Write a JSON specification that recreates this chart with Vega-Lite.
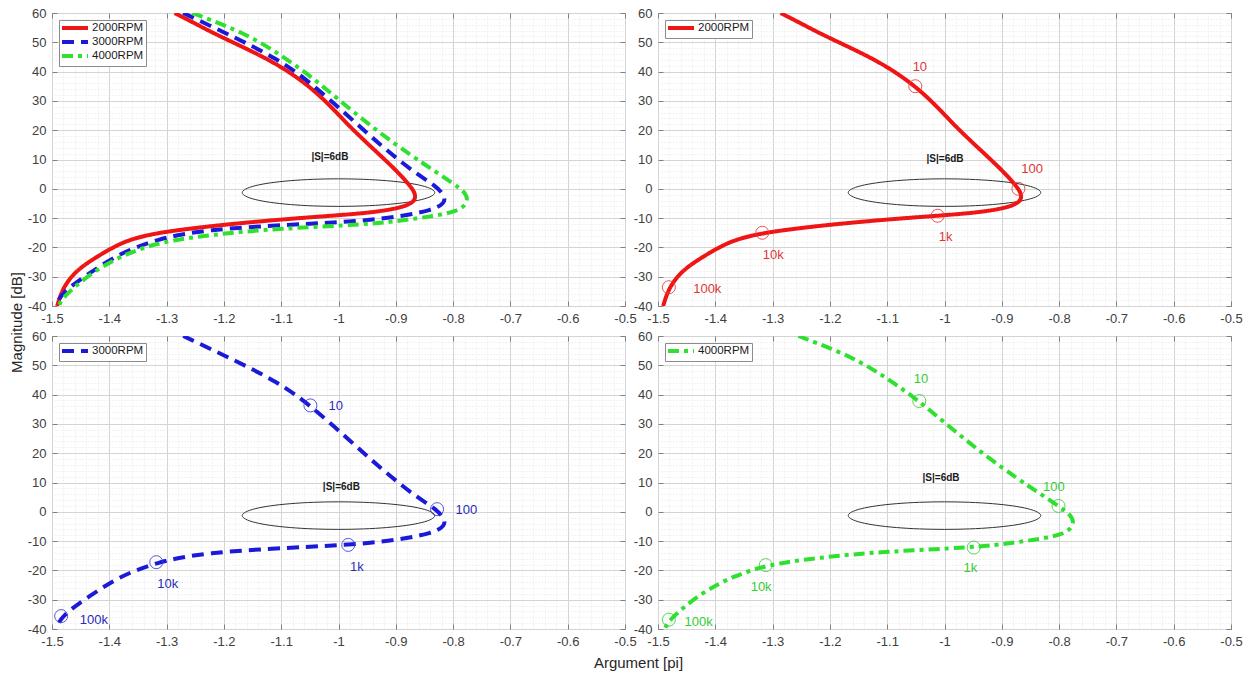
{
  "$schema": "https://vega.github.io/schema/vega-lite/v6.json",
  "padding": {"left": 8, "top": 6, "right": 5, "bottom": 3},
  "background": "white",
  "datasets": {
    "curves": [
      {"series": "2000RPM", "i": 1, "x": -1.286, "y": 60},
      {"series": "2000RPM", "i": 2, "x": -1.253, "y": 56.7},
      {"series": "2000RPM", "i": 3, "x": -1.22, "y": 53.3},
      {"series": "2000RPM", "i": 4, "x": -1.177, "y": 49.3},
      {"series": "2000RPM", "i": 5, "x": -1.133, "y": 45.2},
      {"series": "2000RPM", "i": 6, "x": -1.092, "y": 40.7},
      {"series": "2000RPM", "i": 7, "x": -1.051, "y": 35.0},
      {"series": "2000RPM", "i": 8, "x": -1.016, "y": 28.7},
      {"series": "2000RPM", "i": 9, "x": -0.981, "y": 21.3},
      {"series": "2000RPM", "i": 10, "x": -0.941, "y": 13.9},
      {"series": "2000RPM", "i": 11, "x": -0.905, "y": 7.4},
      {"series": "2000RPM", "i": 12, "x": -0.88, "y": 2.2},
      {"series": "2000RPM", "i": 13, "x": -0.868, "y": -0.8},
      {"series": "2000RPM", "i": 14, "x": -0.865, "y": -3.0},
      {"series": "2000RPM", "i": 15, "x": -0.871, "y": -4.9},
      {"series": "2000RPM", "i": 16, "x": -0.894, "y": -6.6},
      {"series": "2000RPM", "i": 17, "x": -0.941, "y": -8.1},
      {"series": "2000RPM", "i": 18, "x": -1.012, "y": -9.2},
      {"series": "2000RPM", "i": 19, "x": -1.104, "y": -10.5},
      {"series": "2000RPM", "i": 20, "x": -1.22, "y": -12.6},
      {"series": "2000RPM", "i": 21, "x": -1.318, "y": -15.0},
      {"series": "2000RPM", "i": 22, "x": -1.366, "y": -17.4},
      {"series": "2000RPM", "i": 23, "x": -1.395, "y": -20.1},
      {"series": "2000RPM", "i": 24, "x": -1.43, "y": -24.2},
      {"series": "2000RPM", "i": 25, "x": -1.458, "y": -28.0},
      {"series": "2000RPM", "i": 26, "x": -1.481, "y": -33.6},
      {"series": "2000RPM", "i": 27, "x": -1.491, "y": -40},
      {"series": "3000RPM", "i": 1, "x": -1.271, "y": 60},
      {"series": "3000RPM", "i": 2, "x": -1.19, "y": 52.5},
      {"series": "3000RPM", "i": 3, "x": -1.106, "y": 44.4},
      {"series": "3000RPM", "i": 4, "x": -1.049, "y": 36.3},
      {"series": "3000RPM", "i": 5, "x": -0.983, "y": 24.8},
      {"series": "3000RPM", "i": 6, "x": -0.925, "y": 14.6},
      {"series": "3000RPM", "i": 7, "x": -0.867, "y": 5.4},
      {"series": "3000RPM", "i": 8, "x": -0.83, "y": 1.0},
      {"series": "3000RPM", "i": 9, "x": -0.814, "y": -2.5},
      {"series": "3000RPM", "i": 10, "x": -0.815, "y": -5.0},
      {"series": "3000RPM", "i": 11, "x": -0.835, "y": -7.2},
      {"series": "3000RPM", "i": 12, "x": -0.896, "y": -9.7},
      {"series": "3000RPM", "i": 13, "x": -0.983, "y": -11.3},
      {"series": "3000RPM", "i": 14, "x": -1.071, "y": -12.1},
      {"series": "3000RPM", "i": 15, "x": -1.234, "y": -13.9},
      {"series": "3000RPM", "i": 16, "x": -1.318, "y": -17.2},
      {"series": "3000RPM", "i": 17, "x": -1.385, "y": -22.3},
      {"series": "3000RPM", "i": 18, "x": -1.437, "y": -29.1},
      {"series": "3000RPM", "i": 19, "x": -1.484, "y": -35.6},
      {"series": "3000RPM", "i": 20, "x": -1.493, "y": -40},
      {"series": "4000RPM", "i": 1, "x": -1.255, "y": 60},
      {"series": "4000RPM", "i": 2, "x": -1.162, "y": 53.1},
      {"series": "4000RPM", "i": 3, "x": -1.1, "y": 45.6},
      {"series": "4000RPM", "i": 4, "x": -1.044, "y": 37.8},
      {"series": "4000RPM", "i": 5, "x": -0.987, "y": 28.3},
      {"series": "4000RPM", "i": 6, "x": -0.929, "y": 19.2},
      {"series": "4000RPM", "i": 7, "x": -0.871, "y": 11.1},
      {"series": "4000RPM", "i": 8, "x": -0.838, "y": 6.8},
      {"series": "4000RPM", "i": 9, "x": -0.801, "y": 2.0},
      {"series": "4000RPM", "i": 10, "x": -0.78, "y": -1.0},
      {"series": "4000RPM", "i": 11, "x": -0.774, "y": -3.5},
      {"series": "4000RPM", "i": 12, "x": -0.78, "y": -6.0},
      {"series": "4000RPM", "i": 13, "x": -0.795, "y": -7.6},
      {"series": "4000RPM", "i": 14, "x": -0.818, "y": -8.8},
      {"series": "4000RPM", "i": 15, "x": -0.876, "y": -10.5},
      {"series": "4000RPM", "i": 16, "x": -0.949, "y": -12.2},
      {"series": "4000RPM", "i": 17, "x": -1.104, "y": -13.5},
      {"series": "4000RPM", "i": 18, "x": -1.22, "y": -15.6},
      {"series": "4000RPM", "i": 19, "x": -1.312, "y": -18.2},
      {"series": "4000RPM", "i": 20, "x": -1.366, "y": -21.8},
      {"series": "4000RPM", "i": 21, "x": -1.424, "y": -27.5},
      {"series": "4000RPM", "i": 22, "x": -1.481, "y": -36.8},
      {"series": "4000RPM", "i": 23, "x": -1.488, "y": -40}
    ],
    "ellipse": [
      {"i": 0, "x": -0.832, "y": -1.3},
      {"i": 1, "x": -0.838, "y": -0.083},
      {"i": 2, "x": -0.8545, "y": 1.05},
      {"i": 3, "x": -0.881, "y": 2.023},
      {"i": 4, "x": -0.916, "y": 2.77},
      {"i": 5, "x": -0.9565, "y": 3.24},
      {"i": 6, "x": -1.0, "y": 3.4},
      {"i": 7, "x": -1.0435, "y": 3.24},
      {"i": 8, "x": -1.084, "y": 2.77},
      {"i": 9, "x": -1.119, "y": 2.023},
      {"i": 10, "x": -1.1455, "y": 1.05},
      {"i": 11, "x": -1.162, "y": -0.083},
      {"i": 12, "x": -1.168, "y": -1.3},
      {"i": 13, "x": -1.162, "y": -2.517},
      {"i": 14, "x": -1.1455, "y": -3.65},
      {"i": 15, "x": -1.119, "y": -4.623},
      {"i": 16, "x": -1.084, "y": -5.37},
      {"i": 17, "x": -1.0435, "y": -5.84},
      {"i": 18, "x": -1.0, "y": -6.0},
      {"i": 19, "x": -0.9565, "y": -5.84},
      {"i": 20, "x": -0.916, "y": -5.37},
      {"i": 21, "x": -0.881, "y": -4.623},
      {"i": 22, "x": -0.8545, "y": -3.65},
      {"i": 23, "x": -0.838, "y": -2.517}
    ],
    "markers": [
      {"series": "2000RPM", "label": "10", "x": -1.051, "y": 35.0},
      {"series": "2000RPM", "label": "100", "x": -0.871, "y": 0.0},
      {"series": "2000RPM", "label": "1k", "x": -1.012, "y": -9.2},
      {"series": "2000RPM", "label": "10k", "x": -1.318, "y": -15.0},
      {"series": "2000RPM", "label": "100k", "x": -1.481, "y": -33.6},
      {"series": "3000RPM", "label": "10", "x": -1.049, "y": 36.3},
      {"series": "3000RPM", "label": "100", "x": -0.828, "y": 0.9},
      {"series": "3000RPM", "label": "1k", "x": -0.983, "y": -11.3},
      {"series": "3000RPM", "label": "10k", "x": -1.318, "y": -17.2},
      {"series": "3000RPM", "label": "100k", "x": -1.484, "y": -35.6},
      {"series": "4000RPM", "label": "10", "x": -1.044, "y": 37.8},
      {"series": "4000RPM", "label": "100", "x": -0.801, "y": 2.0},
      {"series": "4000RPM", "label": "1k", "x": -0.949, "y": -12.2},
      {"series": "4000RPM", "label": "10k", "x": -1.312, "y": -18.2},
      {"series": "4000RPM", "label": "100k", "x": -1.481, "y": -36.8}
    ],
    "labels": [
      {"series": "2000RPM", "label": "10", "x": -1.043, "y": 41.6},
      {"series": "2000RPM", "label": "100", "x": -0.847, "y": 6.6},
      {"series": "2000RPM", "label": "1k", "x": -0.998, "y": -16.4},
      {"series": "2000RPM", "label": "10k", "x": -1.299, "y": -22.7},
      {"series": "2000RPM", "label": "100k", "x": -1.414, "y": -34.1},
      {"series": "3000RPM", "label": "10", "x": -1.005, "y": 36.1},
      {"series": "3000RPM", "label": "100", "x": -0.777, "y": 0.5},
      {"series": "3000RPM", "label": "1k", "x": -0.968, "y": -18.8},
      {"series": "3000RPM", "label": "10k", "x": -1.298, "y": -24.7},
      {"series": "3000RPM", "label": "100k", "x": -1.427, "y": -36.8},
      {"series": "4000RPM", "label": "10", "x": -1.041, "y": 45.2},
      {"series": "4000RPM", "label": "100", "x": -0.809, "y": 8.6},
      {"series": "4000RPM", "label": "1k", "x": -0.955, "y": -19.3},
      {"series": "4000RPM", "label": "10k", "x": -1.32, "y": -25.8},
      {"series": "4000RPM", "label": "100k", "x": -1.429, "y": -37.5}
    ],
    "stext": [
      {"panel": 1, "t": "|S|=6dB", "x": -1.015, "y": 11.0},
      {"panel": 2, "t": "|S|=6dB", "x": -0.999, "y": 10.3},
      {"panel": 3, "t": "|S|=6dB", "x": -0.995, "y": 8.5},
      {"panel": 4, "t": "|S|=6dB", "x": -1.006, "y": 11.7}
    ]
  },
  "columns": 2,
  "spacing": {"row": 30, "column": 33},
  "bounds": "flush",
  "resolve": {
    "scale": {"color": "independent", "strokeDash": "independent"},
    "legend": {"color": "independent", "strokeDash": "independent"}
  },
  "concat": [
    {
      "width": 573, "height": 293,
      "resolve": {"axis": {"x": "independent", "y": "independent"}},
      "encoding": {
        "x": {"field": "x", "type": "quantitative", "scale": {"domain": [-1.5, -0.5], "nice": false, "zero": false}, "axis": null},
        "y": {"field": "y", "type": "quantitative", "scale": {"domain": [-40, 60], "nice": false, "zero": false}, "axis": null}
      },
      "layer": [
        {"data": {"name": "ellipse"}, "mark": {"type": "line", "interpolate": "cardinal-closed", "color": "#333333", "strokeWidth": 1},
          "encoding": {"order": {"field": "i", "type": "quantitative"},
            "x": {"field": "x", "type": "quantitative",
              "axis": {"title": null, "tickCount": 50, "labelOverlap": false, "labelFlush": false,
                "labelExpr": "abs(datum.value*10 - round(datum.value*10)) < 0.000001 ? '' + datum.value : ''",
                "gridColor": {"condition": {"test": "abs(datum.value*10 - round(datum.value*10)) > 0.000001", "value": "#e6e6e6"}, "value": "#d4d4d4"},
                "gridDash": {"condition": {"test": "abs(datum.value*10 - round(datum.value*10)) > 0.000001", "value": [1, 2]}, "value": []},
                "tickOpacity": {"condition": {"test": "abs(datum.value*10 - round(datum.value*10)) > 0.000001", "value": 0}, "value": 1}}},
            "y": {"field": "y", "type": "quantitative",
              "axis": {"title": "Magnitude [dB]", "titleX": -36, "titleY": 309, "titleAlign": "center", "titleBaseline": "middle", "titleAngle": -90,
                "tickCount": 50, "labelOverlap": false, "labelFlush": false,
                "labelExpr": "datum.value % 10 === 0 ? '' + datum.value : ''",
                "gridColor": {"condition": {"test": "datum.value % 10 !== 0", "value": "#e6e6e6"}, "value": "#d4d4d4"},
                "gridDash": {"condition": {"test": "datum.value % 10 !== 0", "value": [1, 2]}, "value": []},
                "tickOpacity": {"condition": {"test": "datum.value % 10 !== 0", "value": 0}, "value": 1}}}}},
        {"data": {"name": "curves"}, "mark": {"type": "line", "interpolate": "basis", "strokeWidth": 4, "clip": true},
          "encoding": {"order": {"field": "i", "type": "quantitative"},
            "color": {"field": "series", "type": "nominal", "title": null, "scale": {"domain": ["2000RPM", "3000RPM", "4000RPM"], "range": ["#f01515", "#1a1ad8", "#2fe02f"]}},
            "strokeDash": {"field": "series", "type": "nominal", "title": null, "scale": {"domain": ["2000RPM", "3000RPM", "4000RPM"], "range": [[1, 0], [12, 7], [11, 5, 4, 5]]}}}},
        {"data": {"name": "stext"}, "transform": [{"filter": "datum.panel == 1"}], "mark": {"type": "text", "fontWeight": "bold", "fontSize": 10, "font": "Liberation Sans", "color": "#1a1a1a"},
          "encoding": {"text": {"field": "t"},
            "x": {"field": "x", "type": "quantitative", "axis": {"orient": "top", "labels": false, "grid": false, "title": null, "tickCount": 10}},
            "y": {"field": "y", "type": "quantitative", "axis": {"orient": "right", "labels": false, "grid": false, "title": null, "tickCount": 10}}}}
      ]
    },
    {
      "width": 573, "height": 293,
      "resolve": {"axis": {"x": "independent", "y": "independent"}},
      "encoding": {
        "x": {"field": "x", "type": "quantitative", "scale": {"domain": [-1.5, -0.5], "nice": false, "zero": false}, "axis": null},
        "y": {"field": "y", "type": "quantitative", "scale": {"domain": [-40, 60], "nice": false, "zero": false}, "axis": null}
      },
      "layer": [
        {"data": {"name": "ellipse"}, "mark": {"type": "line", "interpolate": "cardinal-closed", "color": "#333333", "strokeWidth": 1},
          "encoding": {"order": {"field": "i", "type": "quantitative"},
            "x": {"field": "x", "type": "quantitative",
              "axis": {"title": null, "tickCount": 50, "labelOverlap": false, "labelFlush": false,
                "labelExpr": "abs(datum.value*10 - round(datum.value*10)) < 0.000001 ? '' + datum.value : ''",
                "gridColor": {"condition": {"test": "abs(datum.value*10 - round(datum.value*10)) > 0.000001", "value": "#e6e6e6"}, "value": "#d4d4d4"},
                "gridDash": {"condition": {"test": "abs(datum.value*10 - round(datum.value*10)) > 0.000001", "value": [1, 2]}, "value": []},
                "tickOpacity": {"condition": {"test": "abs(datum.value*10 - round(datum.value*10)) > 0.000001", "value": 0}, "value": 1}}},
            "y": {"field": "y", "type": "quantitative",
              "axis": {"title": null, "tickCount": 50, "labelOverlap": false, "labelFlush": false,
                "labelExpr": "datum.value % 10 === 0 ? '' + datum.value : ''",
                "gridColor": {"condition": {"test": "datum.value % 10 !== 0", "value": "#e6e6e6"}, "value": "#d4d4d4"},
                "gridDash": {"condition": {"test": "datum.value % 10 !== 0", "value": [1, 2]}, "value": []},
                "tickOpacity": {"condition": {"test": "datum.value % 10 !== 0", "value": 0}, "value": 1}}}}},
        {"data": {"name": "curves"}, "transform": [{"filter": "datum.series == '2000RPM'"}], "mark": {"type": "line", "interpolate": "basis", "strokeWidth": 4, "clip": true},
          "encoding": {"order": {"field": "i", "type": "quantitative"},
            "color": {"field": "series", "type": "nominal", "title": null, "scale": {"domain": ["2000RPM"], "range": ["#f01515"]}},
            "strokeDash": {"field": "series", "type": "nominal", "title": null, "scale": {"domain": ["2000RPM"], "range": [[1, 0]]}}}},
        {"data": {"name": "markers"}, "transform": [{"filter": "datum.series == '2000RPM'"}], "mark": {"type": "point", "shape": "circle", "filled": false, "size": 170, "strokeWidth": 1, "color": "#e23c3c", "opacity": 0.85}},
        {"data": {"name": "labels"}, "transform": [{"filter": "datum.series == '2000RPM'"}], "mark": {"type": "text", "fontSize": 13, "font": "Liberation Sans", "color": "#e03535"}, "encoding": {"text": {"field": "label"}}},
        {"data": {"name": "stext"}, "transform": [{"filter": "datum.panel == 2"}], "mark": {"type": "text", "fontWeight": "bold", "fontSize": 10, "font": "Liberation Sans", "color": "#1a1a1a"},
          "encoding": {"text": {"field": "t"},
            "x": {"field": "x", "type": "quantitative", "axis": {"orient": "top", "labels": false, "grid": false, "title": null, "tickCount": 10}},
            "y": {"field": "y", "type": "quantitative", "axis": {"orient": "right", "labels": false, "grid": false, "title": null, "tickCount": 10}}}}
      ]
    },
    {
      "width": 573, "height": 293,
      "resolve": {"axis": {"x": "independent", "y": "independent"}},
      "encoding": {
        "x": {"field": "x", "type": "quantitative", "scale": {"domain": [-1.5, -0.5], "nice": false, "zero": false}, "axis": null},
        "y": {"field": "y", "type": "quantitative", "scale": {"domain": [-40, 60], "nice": false, "zero": false}, "axis": null}
      },
      "layer": [
        {"data": {"name": "ellipse"}, "mark": {"type": "line", "interpolate": "cardinal-closed", "color": "#333333", "strokeWidth": 1},
          "encoding": {"order": {"field": "i", "type": "quantitative"},
            "x": {"field": "x", "type": "quantitative",
              "axis": {"title": "Argument [pi]", "titleX": 586, "titleY": 33, "titleAlign": "center", "titleBaseline": "middle",
                "tickCount": 50, "labelOverlap": false, "labelFlush": false,
                "labelExpr": "abs(datum.value*10 - round(datum.value*10)) < 0.000001 ? '' + datum.value : ''",
                "gridColor": {"condition": {"test": "abs(datum.value*10 - round(datum.value*10)) > 0.000001", "value": "#e6e6e6"}, "value": "#d4d4d4"},
                "gridDash": {"condition": {"test": "abs(datum.value*10 - round(datum.value*10)) > 0.000001", "value": [1, 2]}, "value": []},
                "tickOpacity": {"condition": {"test": "abs(datum.value*10 - round(datum.value*10)) > 0.000001", "value": 0}, "value": 1}}},
            "y": {"field": "y", "type": "quantitative",
              "axis": {"title": null, "tickCount": 50, "labelOverlap": false, "labelFlush": false,
                "labelExpr": "datum.value % 10 === 0 ? '' + datum.value : ''",
                "gridColor": {"condition": {"test": "datum.value % 10 !== 0", "value": "#e6e6e6"}, "value": "#d4d4d4"},
                "gridDash": {"condition": {"test": "datum.value % 10 !== 0", "value": [1, 2]}, "value": []},
                "tickOpacity": {"condition": {"test": "datum.value % 10 !== 0", "value": 0}, "value": 1}}}}},
        {"data": {"name": "curves"}, "transform": [{"filter": "datum.series == '3000RPM'"}], "mark": {"type": "line", "interpolate": "basis", "strokeWidth": 4, "clip": true},
          "encoding": {"order": {"field": "i", "type": "quantitative"},
            "color": {"field": "series", "type": "nominal", "title": null, "scale": {"domain": ["3000RPM"], "range": ["#1a1ad8"]}},
            "strokeDash": {"field": "series", "type": "nominal", "title": null, "scale": {"domain": ["3000RPM"], "range": [[12, 7]]}}}},
        {"data": {"name": "markers"}, "transform": [{"filter": "datum.series == '3000RPM'"}], "mark": {"type": "point", "shape": "circle", "filled": false, "size": 170, "strokeWidth": 1, "color": "#3a3ad0", "opacity": 0.85}},
        {"data": {"name": "labels"}, "transform": [{"filter": "datum.series == '3000RPM'"}], "mark": {"type": "text", "fontSize": 13, "font": "Liberation Sans", "color": "#2a2ab8"}, "encoding": {"text": {"field": "label"}}},
        {"data": {"name": "stext"}, "transform": [{"filter": "datum.panel == 3"}], "mark": {"type": "text", "fontWeight": "bold", "fontSize": 10, "font": "Liberation Sans", "color": "#1a1a1a"},
          "encoding": {"text": {"field": "t"},
            "x": {"field": "x", "type": "quantitative", "axis": {"orient": "top", "labels": false, "grid": false, "title": null, "tickCount": 10}},
            "y": {"field": "y", "type": "quantitative", "axis": {"orient": "right", "labels": false, "grid": false, "title": null, "tickCount": 10}}}}
      ]
    },
    {
      "width": 573, "height": 293,
      "resolve": {"axis": {"x": "independent", "y": "independent"}},
      "encoding": {
        "x": {"field": "x", "type": "quantitative", "scale": {"domain": [-1.5, -0.5], "nice": false, "zero": false}, "axis": null},
        "y": {"field": "y", "type": "quantitative", "scale": {"domain": [-40, 60], "nice": false, "zero": false}, "axis": null}
      },
      "layer": [
        {"data": {"name": "ellipse"}, "mark": {"type": "line", "interpolate": "cardinal-closed", "color": "#333333", "strokeWidth": 1},
          "encoding": {"order": {"field": "i", "type": "quantitative"},
            "x": {"field": "x", "type": "quantitative",
              "axis": {"title": null, "tickCount": 50, "labelOverlap": false, "labelFlush": false,
                "labelExpr": "abs(datum.value*10 - round(datum.value*10)) < 0.000001 ? '' + datum.value : ''",
                "gridColor": {"condition": {"test": "abs(datum.value*10 - round(datum.value*10)) > 0.000001", "value": "#e6e6e6"}, "value": "#d4d4d4"},
                "gridDash": {"condition": {"test": "abs(datum.value*10 - round(datum.value*10)) > 0.000001", "value": [1, 2]}, "value": []},
                "tickOpacity": {"condition": {"test": "abs(datum.value*10 - round(datum.value*10)) > 0.000001", "value": 0}, "value": 1}}},
            "y": {"field": "y", "type": "quantitative",
              "axis": {"title": null, "tickCount": 50, "labelOverlap": false, "labelFlush": false,
                "labelExpr": "datum.value % 10 === 0 ? '' + datum.value : ''",
                "gridColor": {"condition": {"test": "datum.value % 10 !== 0", "value": "#e6e6e6"}, "value": "#d4d4d4"},
                "gridDash": {"condition": {"test": "datum.value % 10 !== 0", "value": [1, 2]}, "value": []},
                "tickOpacity": {"condition": {"test": "datum.value % 10 !== 0", "value": 0}, "value": 1}}}}},
        {"data": {"name": "curves"}, "transform": [{"filter": "datum.series == '4000RPM'"}], "mark": {"type": "line", "interpolate": "basis", "strokeWidth": 4, "clip": true},
          "encoding": {"order": {"field": "i", "type": "quantitative"},
            "color": {"field": "series", "type": "nominal", "title": null, "scale": {"domain": ["4000RPM"], "range": ["#2fe02f"]}},
            "strokeDash": {"field": "series", "type": "nominal", "title": null, "scale": {"domain": ["4000RPM"], "range": [[11, 5, 4, 5]]}}}},
        {"data": {"name": "markers"}, "transform": [{"filter": "datum.series == '4000RPM'"}], "mark": {"type": "point", "shape": "circle", "filled": false, "size": 170, "strokeWidth": 1, "color": "#3ccf3c", "opacity": 0.85}},
        {"data": {"name": "labels"}, "transform": [{"filter": "datum.series == '4000RPM'"}], "mark": {"type": "text", "fontSize": 13, "font": "Liberation Sans", "color": "#35cc35"}, "encoding": {"text": {"field": "label"}}},
        {"data": {"name": "stext"}, "transform": [{"filter": "datum.panel == 4"}], "mark": {"type": "text", "fontWeight": "bold", "fontSize": 10, "font": "Liberation Sans", "color": "#1a1a1a"},
          "encoding": {"text": {"field": "t"},
            "x": {"field": "x", "type": "quantitative", "axis": {"orient": "top", "labels": false, "grid": false, "title": null, "tickCount": 10}},
            "y": {"field": "y", "type": "quantitative", "axis": {"orient": "right", "labels": false, "grid": false, "title": null, "tickCount": 10}}}}
      ]
    }
  ],
  "config": {
    "font": "Liberation Sans",
    "view": {"stroke": "#8c8c8c", "strokeWidth": 1},
    "axis": {
      "domain": false,
      "tickSize": -5,
      "tickColor": "#808080",
      "labelFont": "Liberation Sans",
      "labelFontSize": 13,
      "labelColor": "#404040",
      "labelPadding": 11,
      "titleFont": "Liberation Sans",
      "titleFontSize": 15,
      "titleFontWeight": "normal",
      "titleColor": "#262626",
      "gridWidth": 1
    },
    "legend": {
      "orient": "top-left",
      "offset": 7,
      "fillColor": "#ffffff",
      "strokeColor": "#8c8c8c",
      "padding": 2,
      "labelFont": "Liberation Sans",
      "labelFontSize": 11.5,
      "labelColor": "#1a1a1a",
      "symbolType": "M-3.25,0H3.25",
      "symbolSize": 64,
      "symbolStrokeWidth": 4,
      "symbolOffset": 8,
      "rowPadding": -2,
      "labelOffset": 11
    }
  }
}
